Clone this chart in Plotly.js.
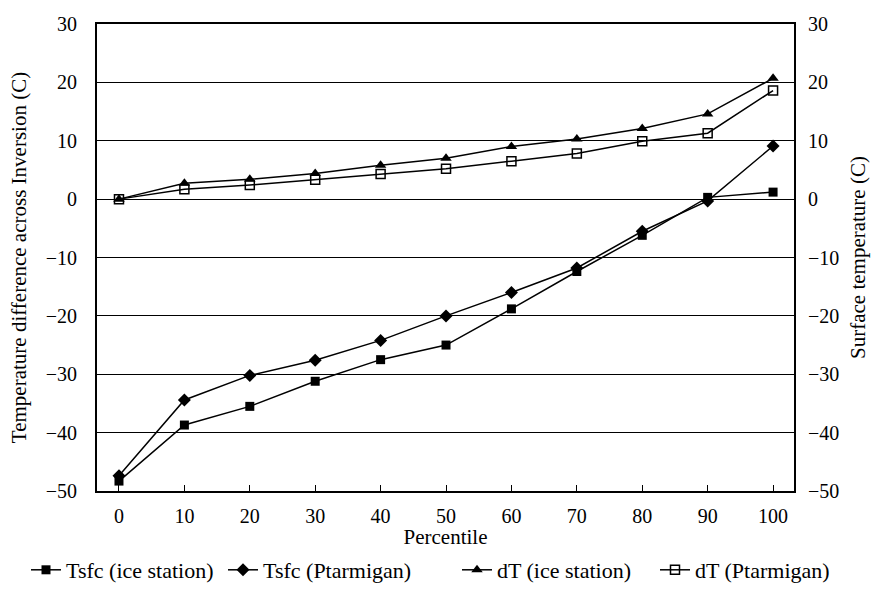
<!DOCTYPE html>
<html>
<head>
<meta charset="utf-8">
<script src="https://cdn.plot.ly/plotly-3.0.1.min.js"></script>
<style>html,body{margin:0;padding:0;background:#fff;}#chart{width:874px;height:589px;}</style>
</head>
<body>
<div id="chart"></div>
<script>
var percentile = [0, 10, 20, 30, 40, 50, 60, 70, 80, 90, 100];
var tsfcIceStation = [-48.3, -38.7, -35.5, -31.2, -27.5, -25.0, -18.8, -12.4, -6.2, 0.3, 1.2];
var tsfcPtarmigan = [-47.4, -34.4, -30.2, -27.6, -24.2, -20.0, -16.0, -11.8, -5.5, -0.3, 9.1];
var dTIceStation = [0, 2.7, 3.4, 4.4, 5.8, 7.0, 9.0, 10.3, 12.1, 14.6, 20.7];
var dTPtarmigan = [0, 1.7, 2.4, 3.3, 4.3, 5.2, 6.5, 7.8, 9.9, 11.3, 18.6];
var seriesNames = ['Tsfc (ice station)', 'Tsfc (Ptarmigan)', 'dT (ice station)', 'dT (Ptarmigan)'];
var xTickVals = [0, 10, 20, 30, 40, 50, 60, 70, 80, 90, 100];
var yTickVals = [-50, -40, -30, -20, -10, 0, 10, 20, 30];

var FONT = 'Liberation Serif, Times New Roman, serif';
var lineStyle = {color: '#000', width: 1.5};

var traces = [
  {x: percentile, y: tsfcIceStation, name: seriesNames[0], yaxis: 'y2', mode: 'lines+markers', legend: 'legend',
   line: lineStyle, marker: {symbol: 'square', size: 9, color: '#000'}},
  {x: percentile, y: tsfcPtarmigan, name: seriesNames[1], yaxis: 'y2', mode: 'lines+markers', legend: 'legend2',
   line: lineStyle, marker: {symbol: 'diamond', size: 10, color: '#000'}},
  {x: percentile, y: dTIceStation, name: seriesNames[2], yaxis: 'y', mode: 'lines+markers', legend: 'legend3',
   line: lineStyle, marker: {symbol: 'triangle-up', size: 10, color: '#000'}},
  {x: percentile, y: dTPtarmigan, name: seriesNames[3], yaxis: 'y', mode: 'lines+markers', legend: 'legend4',
   line: lineStyle, marker: {symbol: 'square-open', size: 9, color: '#000', line: {width: 1.5, color: '#000'}}}
];

function mkLegend(px) {
  return {orientation: 'h', xref: 'container', yref: 'container', x: px / 874, y: 19 / 589,
          xanchor: 'left', yanchor: 'middle', font: {family: FONT, size: 22, color: '#000'},
          itemwidth: 30, bgcolor: 'rgba(0,0,0,0)', borderwidth: 0};
}

var layout = {
  width: 874, height: 589,
  margin: {l: 97, r: 80, t: 24, b: 98},
  paper_bgcolor: '#fff', plot_bgcolor: '#fff',
  font: {family: FONT, size: 20, color: '#000'},
  showlegend: true,
  legend: mkLegend(26),
  legend2: mkLegend(223),
  legend3: mkLegend(457),
  legend4: mkLegend(655),
  xaxis: {range: [-3.36, 103.2], tickvals: xTickVals, ticks: 'inside', ticklen: 6, tickwidth: 1,
          tickcolor: '#000', showgrid: false, zeroline: false, showline: true, linewidth: 2,
          linecolor: '#000', mirror: true, tickfont: {family: FONT, size: 20},
          ticklabelstandoff: 6,
          title: {text: 'Percentile', font: {family: FONT, size: 21}, standoff: 2}},
  yaxis: {range: [-50, 30], tickvals: yTickVals, ticks: '', showgrid: true, gridcolor: '#000',
          gridwidth: 1, zeroline: false, showline: true, linewidth: 2, linecolor: '#000',
          mirror: false, tickfont: {family: FONT, size: 20}, ticklabelstandoff: 14,
          title: {text: 'Temperature difference across Inversion (C)', font: {family: FONT, size: 21}, standoff: 13}},
  yaxis2: {range: [-50, 30], tickvals: yTickVals, overlaying: 'y', side: 'right', ticks: '',
           showgrid: false, zeroline: false, showline: true, linewidth: 2, linecolor: '#000',
           tickfont: {family: FONT, size: 20}, ticklabelstandoff: 8,
           title: {text: 'Surface temperature (C)', font: {family: FONT, size: 21}, standoff: 12}}
};

Plotly.newPlot('chart', traces, layout, {displayModeBar: false, staticPlot: true});
</script>
</body>
</html>
